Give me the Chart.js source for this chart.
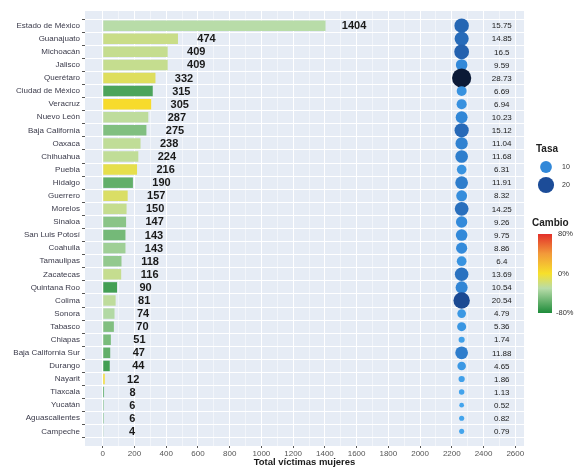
<!DOCTYPE html>
<html>
<head>
<meta charset="utf-8">
<script src="https://cdn.jsdelivr.net/npm/chart.js@4"></script>
<style>
  html, body { margin: 0; padding: 0; background: #ffffff; }
  #wrap { width: 574px; height: 470px; }
</style>
</head>
<body>
<div id="wrap"><canvas id="grafica"></canvas></div>
<script>
// Datos por estado (ordenados de mayor a menor)
const estados = ["Estado de México", "Guanajuato", "Michoacán", "Jalisco", "Querétaro",
  "Ciudad de México", "Veracruz", "Nuevo León", "Baja California", "Oaxaca", "Chihuahua",
  "Puebla", "Hidalgo", "Guerrero", "Morelos", "Sinaloa", "San Luis Potosí", "Coahuila",
  "Tamaulipas", "Zacatecas", "Quintana Roo", "Colima", "Sonora", "Tabasco", "Chiapas",
  "Baja California Sur", "Durango", "Nayarit", "Tlaxcala", "Yucatán", "Aguascalientes", "Campeche"];
const victimas = [1404, 474, 409, 409, 332, 315, 305, 287, 275, 238, 224, 216, 190, 157, 150,
  147, 143, 143, 118, 116, 90, 81, 74, 70, 51, 47, 44, 12, 8, 6, 6, 4];
const tasa = [15.75, 14.85, 16.5, 9.59, 28.73, 6.69, 6.94, 10.23, 15.12, 11.04, 11.68, 6.31,
  11.91, 8.32, 14.25, 9.26, 9.75, 8.86, 6.4, 13.69, 10.54, 20.54, 4.79, 5.36, 1.74, 11.88,
  4.65, 1.86, 1.13, 0.52, 0.82, 0.79];
// cambio (%) estimado a partir del color de cada barra
const cambio = [-30, -22, -24, -24, -12, -65, 3, -27, -48, -26, -26, -8, -58, -14, -24, -45,
  -52, -38, -42, -24, -68, -27, -32, -48, -50, -58, -68, 2, -62, -55, -55, -55];
const ticksX = [0, 200, 400, 600, 800, 1000, 1200, 1400, 1600, 1800, 2000, 2200, 2400, 2600];

const X_BURBUJA = 2262;
const X_TEXTO_TASA = 2515;
const DESPLAZA_ETIQUETA = 180;

function hexRgb(h) {
  return [parseInt(h.slice(1, 3), 16), parseInt(h.slice(3, 5), 16), parseInt(h.slice(5, 7), 16)];
}
function interpola(stops, v) {
  if (v <= stops[0][0]) return "rgb(" + hexRgb(stops[0][1]).join(",") + ")";
  for (let i = 1; i < stops.length; i++) {
    if (v <= stops[i][0]) {
      const t = (v - stops[i - 1][0]) / (stops[i][0] - stops[i - 1][0]);
      const a = hexRgb(stops[i - 1][1]), b = hexRgb(stops[i][1]);
      return "rgb(" + a.map((c, k) => Math.round(c + (b[k] - c) * t)).join(",") + ")";
    }
  }
  return "rgb(" + hexRgb(stops[stops.length - 1][1]).join(",") + ")";
}

const escalaCambio = [[-80, "#1e8c3a"], [-30, "#b8dca8"], [0, "#f7e02b"], [40, "#f29a3a"], [80, "#e3302a"]];
const escalaTasa = [[0, "#44a6ee"], [10, "#3288d8"], [20, "#1c4c98"], [28.73, "#0c1a36"]];

const tMin = Math.min(...tasa), tMax = Math.max(...tasa);
function radio(t) {
  // tamaño proporcional al área, como scale_size
  const d2 = 2.2 + 33.8 * (t - tMin) / (tMax - tMin);
  return 1.6 * Math.sqrt(d2);
}

const panelPlugin = {
  id: "panel",
  beforeDraw(chart) {
    const { ctx, chartArea: a } = chart;
    ctx.save();
    ctx.fillStyle = "#e6ecf5";
    ctx.fillRect(a.left, a.top, a.right - a.left, a.bottom - a.top);
    ctx.restore();
  }
};

const etiquetasPlugin = {
  id: "etiquetas",
  afterDatasetsDraw(chart) {
    const { ctx, scales: { x, y } } = chart;
    ctx.save();
    ctx.textAlign = "center";
    ctx.textBaseline = "middle";
    ctx.fillStyle = "#1a1a1a";
    ctx.font = "bold 11px 'Liberation Sans', Arial, sans-serif";
    victimas.forEach((v, i) => {
      ctx.fillText(String(v), x.getPixelForValue(v + DESPLAZA_ETIQUETA), y.getPixelForValue(i) + 0.5);
    });
    ctx.font = "8px 'Liberation Sans Narrow', 'Liberation Sans', Arial, sans-serif";
    tasa.forEach((t, i) => {
      ctx.fillText(String(t), x.getPixelForValue(X_TEXTO_TASA), y.getPixelForValue(i) + 0.5);
    });

    // leyenda Tasa
    ctx.textAlign = "left";
    ctx.fillStyle = "#222";
    ctx.font = "bold 10px 'Liberation Sans', Arial, sans-serif";
    ctx.fillText("Tasa", 536, 149);
    [10, 20].forEach((t, k) => {
      const cy = 167 + k * 18;
      ctx.beginPath();
      ctx.arc(546, cy, radio(t), 0, Math.PI * 2);
      ctx.fillStyle = interpola(escalaTasa, t);
      ctx.fill();
      ctx.fillStyle = "#333";
      ctx.font = "7px 'Liberation Sans', Arial, sans-serif";
      ctx.fillText(String(t), 562, cy);
    });

    // leyenda Cambio
    ctx.fillStyle = "#222";
    ctx.font = "bold 10px 'Liberation Sans', Arial, sans-serif";
    ctx.fillText("Cambio", 532, 223);
    const top = 234, bot = 313;
    const g = ctx.createLinearGradient(0, top, 0, bot);
    escalaCambio.slice().reverse().forEach(s => g.addColorStop((80 - s[0]) / 160, s[1]));
    ctx.fillStyle = g;
    ctx.fillRect(538, top, 14, bot - top);
    ctx.fillStyle = "#333";
    ctx.font = "7.5px 'Liberation Sans', Arial, sans-serif";
    ctx.fillText("80%", 558, top);
    ctx.fillText("0%", 558, (top + bot) / 2);
    ctx.fillText("-80%", 556, bot);
    ctx.restore();
  }
};

const ctx = document.getElementById("grafica").getContext("2d");
new Chart(ctx, {
  data: {
    datasets: [
      {
        type: "bar",
        label: "Víctimas",
        data: victimas.map((v, i) => ({ x: v, y: i })),
        backgroundColor: cambio.map(c => interpola(escalaCambio, c)),
        borderWidth: 0,
        barPercentage: 0.8,
        categoryPercentage: 1,
        order: 2
      },
      {
        type: "bubble",
        label: "Tasa",
        data: tasa.map((t, i) => ({ x: X_BURBUJA, y: i, r: radio(t) })),
        backgroundColor: tasa.map(t => interpola(escalaTasa, t)),
        borderWidth: 0,
        order: 1
      }
    ]
  },
  options: {
    indexAxis: "y",
    responsive: true,
    maintainAspectRatio: false,
    animation: false,
    layout: { padding: { top: 11, right: 50, left: 0, bottom: 0 } },
    plugins: { legend: { display: false }, tooltip: { enabled: false } },
    scales: {
      x: {
        type: "linear",
        min: -112,
        max: 2655,
        afterBuildTicks(scale) {
          const t = [];
          for (let v = 0; v <= 2600; v += 100) t.push({ value: v });
          scale.ticks = t;
        },
        afterFit(scale) { scale.height = 24; },
        grid: {
          color: "#ffffff",
          lineWidth: c => (c.tick && c.tick.value % 200 === 0 ? 1 : 0.5),
          tickColor: c => (c.tick && c.tick.value % 200 === 0 ? "#555" : "rgba(0,0,0,0)"),
          tickLength: 2
        },
        border: { display: false },
        ticks: {
          autoSkip: false,
          maxRotation: 0,
          padding: 1,
          color: "#555",
          font: { size: 8, family: "'Liberation Sans', Arial, sans-serif" },
          callback: v => (ticksX.includes(v) ? String(v) : "")
        },
        title: {
          display: true,
          text: "Total víctimas mujeres",
          color: "#1a1a1a",
          padding: { top: 0, bottom: 2 },
          font: { size: 9.5, weight: "bold", family: "'Liberation Sans', Arial, sans-serif" }
        }
      },
      y: {
        type: "linear",
        reverse: true,
        min: -0.6,
        max: estados.length - 1 + 0.6,
        afterBuildTicks(scale) {
          scale.ticks = estados.map((_, i) => ({ value: i }));
        },
        afterFit(scale) { scale.width = 85; },
        grid: {
          color: "#ffffff",
          lineWidth: 1,
          tickColor: "#555",
          tickLength: 3
        },
        border: { display: false },
        ticks: {
          autoSkip: false,
          padding: 2,
          color: "#3a3a4a",
          font: { size: 8, family: "'Liberation Sans', Arial, sans-serif" },
          callback: v => estados[v]
        }
      }
    }
  },
  plugins: [panelPlugin, etiquetasPlugin]
});
</script>
</body>
</html>
